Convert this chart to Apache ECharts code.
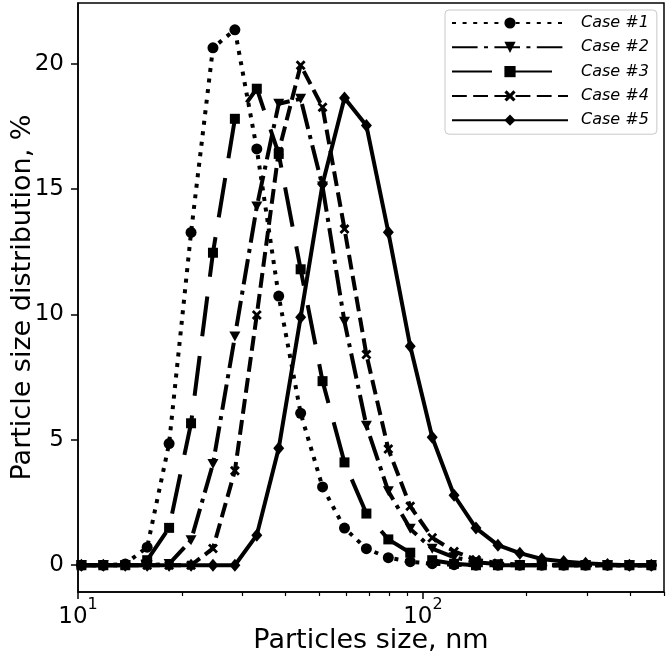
<!DOCTYPE html>
<html><head><meta charset="utf-8">
<script src="https://cdn.jsdelivr.net/npm/echarts@6/dist/echarts.min.js"></script>
<style>html,body{margin:0;padding:0;background:#fff}#c{width:667px;height:663px}</style>
</head><body><div id="c"></div>
<script>
// Particle sizes (nm), shared by all cases
const sizes = [10.23, 11.84, 13.71, 15.87, 18.37, 21.27, 24.62, 28.50, 32.99, 38.19, 44.21, 51.17, 59.24, 68.57, 79.38, 91.89, 106.4, 123.1, 142.5, 165.0, 191.0, 221.1, 255.9, 296.2, 342.9, 396.9, 459.5];
const case1 = [0, 0, 0.05, 0.72, 4.85, 13.27, 20.63, 21.35, 16.6, 10.73, 6.06, 3.12, 1.48, 0.66, 0.3, 0.14, 0.06, 0.02, 0, 0, 0, 0, 0, 0, 0, 0, 0];
const case2 = [0, 0, 0, 0, 0.05, 1.0, 4.04, 9.12, 14.3, 18.4, 18.6, 15.1, 9.71, 5.56, 2.95, 1.45, 0.66, 0.32, 0.12, 0.04, 0, 0, 0, 0, 0, 0, 0];
const case3 = [0, 0, 0, 0.2, 1.49, 5.66, 12.46, 17.8, 19.0, 16.4, 11.8, 7.34, 4.1, 2.06, 1.03, 0.5, 0.2, 0.06, 0, 0, 0, 0, 0, 0, 0, 0, 0];
const case4 = [0, 0, 0, 0, 0, 0, 0.67, 3.77, 9.98, 16.5, 19.94, 18.26, 13.41, 8.4, 4.63, 2.35, 1.1, 0.55, 0.22, 0.08, 0.02, 0, 0, 0, 0, 0, 0];
const case5 = [0, 0, 0, 0, 0, 0, 0, 0, 1.2, 4.66, 9.89, 15.2, 18.63, 17.53, 13.28, 8.73, 5.1, 2.79, 1.48, 0.8, 0.48, 0.25, 0.15, 0.08, 0.03, 0, 0];
const seriesNames = ['Case #1', 'Case #2', 'Case #3', 'Case #4', 'Case #5'];
const yTicks = [0, 5, 10, 15, 20];
const xMajorTicks = [10, 100];
const xMinorTicks = [20, 30, 40, 50, 60, 70, 80, 90, 200, 300, 400, 500];

const allCases = [case1, case2, case3, case4, case5];
const X_PATH = 'path://M0,2L2,0L5,3L8,0L10,2L7,5L10,8L8,10L5,7L2,10L0,8L3,5Z';
const looks = [
  {symbol: 'circle', symbolSize: 11, symbolRotate: 0, dash: [4, 6.6]},
  {symbol: 'triangle', symbolSize: [11, 10], symbolRotate: 180, dash: [25.6, 6.4, 4, 6.4]},
  {symbol: 'rect', symbolSize: 10, symbolRotate: 0, dash: [40, 20]},
  {symbol: X_PATH, symbolSize: 10, symbolRotate: 0, dash: [14.8, 6.4]},
  {symbol: 'diamond', symbolSize: [11, 13], symbolRotate: 0, dash: 'solid'}
];
const FONT = 'DejaVu Sans';

const series = allCases.map((vals, i) => ({
  name: seriesNames[i],
  type: 'line',
  xAxisIndex: 0, yAxisIndex: 0,
  data: vals.map((v, k) => [sizes[k], v]),
  symbol: looks[i].symbol,
  symbolSize: looks[i].symbolSize,
  symbolRotate: looks[i].symbolRotate,
  showAllSymbol: true,
  animation: false,
  lineStyle: {color: '#000', width: 4, type: looks[i].dash, cap: 'butt'},
  itemStyle: {color: '#000', borderWidth: 0},
  emphasis: {disabled: true}
}));

const chart = echarts.init(document.getElementById('c'), null, {renderer: 'canvas'});
chart.setOption({
  backgroundColor: '#fff',
  animation: false,
  grid: [
    {left: 78, right: 3, top: 3, bottom: 71, show: true, borderColor: '#000', borderWidth: 1.5, backgroundColor: 'transparent', containLabel: false, outerBoundsMode: 'none'},
    {left: 78, right: 3, top: 3, bottom: 71, show: false, containLabel: false, outerBoundsMode: 'none'}
  ],
  legend: {
    orient: 'vertical', left: 445, top: 10,
    padding: [5, 8, 6, 6],
    itemWidth: 116, itemHeight: 14, itemGap: 8.3,
    borderColor: '#c8c8c8', borderWidth: 1, borderRadius: 4, backgroundColor: '#fff',
    textStyle: {fontFamily: FONT, fontSize: 16, fontStyle: 'italic', color: '#000', padding: [0, 0, 0, 8]},
    data: seriesNames
  },
  xAxis: [
    {
      type: 'log', logBase: 10, min: 10, max: 500, gridIndex: 0, position: 'bottom',
      axisLine: {show: true, onZero: false, lineStyle: {color: '#000', width: 1.5}},
      axisTick: {show: true, customValues: xMajorTicks, length: 7, lineStyle: {color: '#000', width: 1.5}},
      minorTick: {show: false},
      splitLine: {show: false},
      axisLabel: {
        customValues: xMajorTicks, margin: 5, color: '#000',
        formatter: v => '{b|10}{s|' + Math.round(Math.log10(v)) + '}',
        rich: {
          b: {fontFamily: FONT, fontSize: 23, color: '#000', lineHeight: 32, verticalAlign: 'bottom'},
          s: {fontFamily: FONT, fontSize: 16, color: '#000', lineHeight: 32, verticalAlign: 'top'}
        }
      },
      name: 'Particles size, nm', nameLocation: 'middle', nameGap: 35, nameMoveOverlap: false,
      nameTextStyle: {fontFamily: FONT, fontSize: 27, color: '#000'}
    },
    {
      type: 'log', logBase: 10, min: 10, max: 500, gridIndex: 1, position: 'bottom',
      axisLine: {show: false, onZero: false},
      axisTick: {show: true, customValues: xMinorTicks, length: 4, lineStyle: {color: '#000', width: 1.2}},
      axisLabel: {show: false},
      splitLine: {show: false}
    }
  ],
  yAxis: [
    {
      type: 'value', min: -1.0675, max: 22.4175, gridIndex: 0,
      axisLine: {show: true, onZero: false, lineStyle: {color: '#000', width: 1.5}},
      axisTick: {show: true, customValues: yTicks, length: 7, lineStyle: {color: '#000', width: 1.5}},
      splitLine: {show: false},
      axisLabel: {customValues: yTicks, margin: 14, fontFamily: FONT, fontSize: 23, color: '#000'},
      name: 'Particle size distribution, %', nameLocation: 'middle', nameGap: 42, nameRotate: 90, nameMoveOverlap: false,
      nameTextStyle: {fontFamily: FONT, fontSize: 27, color: '#000'}
    },
    {type: 'value', gridIndex: 1, show: false, min: 0, max: 1}
  ],
  series: series
});
</script>
</body></html>
